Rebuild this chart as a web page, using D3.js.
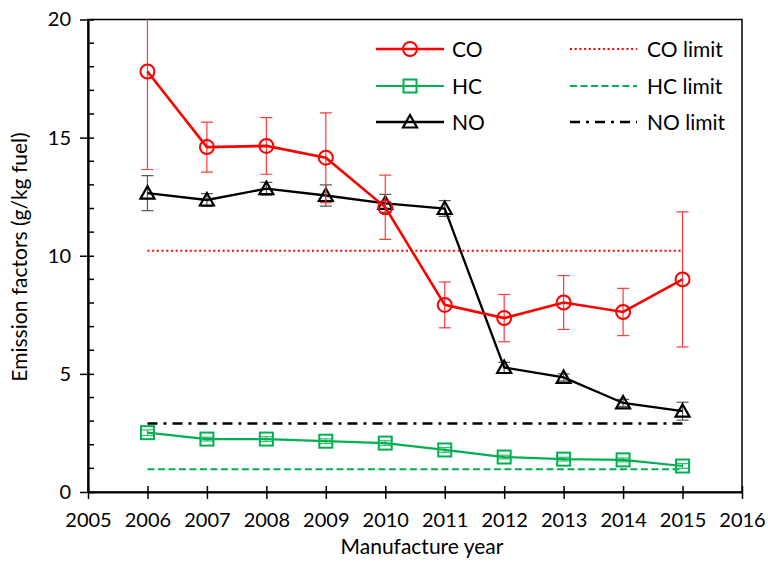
<!DOCTYPE html>
<html><head><meta charset="utf-8">
<script src="https://cdn.jsdelivr.net/npm/d3@7"></script>
<style>body{margin:0;background:#fff}svg{display:block}text{font-family:Lato,"Open Sans",sans-serif;fill:#000}</style>
</head><body><svg id="c" width="768" height="567"></svg>
<script>
const years = [2006,2007,2008,2009,2010,2011,2012,2013,2014,2015];
const coVals = [17.8,14.6,14.65,14.15,12.05,7.92,7.36,8.02,7.62,9.0];
const coErr  = [4.15,1.06,1.2,1.9,1.36,0.97,1.0,1.14,1.0,2.86];
const hcVals = [2.51,2.24,2.24,2.15,2.07,1.78,1.48,1.39,1.36,1.1];
const hcErr  = [0.12,0.08,0.1,0.1,0.1,0.1,0.08,0.08,0.08,0.1];
const noVals = [12.65,12.36,12.84,12.55,12.22,12.0,5.27,4.85,3.77,3.42];
const noErr  = [0.74,0.27,0.27,0.45,0.38,0.33,0.22,0.15,0.15,0.38];
const limits = [{name:"CO limit",value:10.21},{name:"HC limit",value:0.96},{name:"NO limit",value:2.9}];
const xTicks = [2005,2006,2007,2008,2009,2010,2011,2012,2013,2014,2015,2016];
const yTicks = [0,5,10,15,20];

const svg = d3.select("#c");
const L=88,R=742,T=19.5,B=492;
const x = d3.scaleLinear().domain([2005,2016]).range([L,R]);
const y = d3.scaleLinear().domain([0,20]).range([B,T]);

svg.append("defs").append("clipPath").attr("id","clip")
  .append("rect").attr("x",L).attr("y",T).attr("width",R-L).attr("height",B-T);

// frame
svg.append("rect").attr("x",L).attr("y",T).attr("width",R-L).attr("height",B-T)
  .attr("fill","none").attr("stroke","#000").attr("stroke-width",1.5);

// minor y ticks
const minor = d3.range(0,21,1).filter(v=>v%5!==0);
svg.append("g").selectAll("line").data(minor).join("line")
  .attr("x1",L).attr("x2",L+6).attr("y1",d=>y(d)).attr("y2",d=>y(d))
  .attr("stroke","#000").attr("stroke-width",1.5);

// y axis
const yAxis = svg.append("g").attr("transform",`translate(${L},0)`)
  .call(d3.axisLeft(y).tickValues(yTicks).tickSize(8).tickPadding(9).tickSizeOuter(0));
yAxis.select(".domain").attr("stroke-width",2.2);
yAxis.selectAll(".tick line").attr("stroke-width",1.5).attr("x2",6).attr("x1",-8);
yAxis.selectAll("text").attr("font-size",20).attr("font-family","Lato");

// x axis
const xAxis = svg.append("g").attr("transform",`translate(0,${B})`)
  .call(d3.axisBottom(x).tickValues(xTicks).tickFormat(d3.format("d")).tickSize(7).tickPadding(14).tickSizeOuter(0));
xAxis.select(".domain").attr("stroke-width",2.2);
xAxis.selectAll(".tick line").attr("stroke-width",1.5).attr("y1",-6).attr("y2",7);
xAxis.selectAll("text").attr("font-size",20).attr("font-family","Lato");

// titles
svg.append("text").attr("x",422).attr("y",554).attr("text-anchor","middle").attr("font-size",21).text("Manufacture year");
svg.append("text").attr("transform",`translate(27,257) rotate(-90)`).attr("text-anchor","middle").attr("font-size",21).text("Emission factors (g/kg fuel)");

const limStyle = {
  "CO limit":{color:"#FF0000",dash:"2,2.7",w:2},
  "HC limit":{color:"#00B050",dash:"7,3.5",w:2},
  "NO limit":{color:"#000",dash:"10,6,3,6",w:2.5}
};
const plot = svg.append("g").attr("clip-path","url(#clip)");
limits.forEach(l=>{
  const s=limStyle[l.name];
  plot.append("line").attr("x1",x(years[0])).attr("x2",x(years[years.length-1]))
    .attr("y1",y(l.value)).attr("y2",y(l.value))
    .attr("stroke",s.color).attr("stroke-width",s.w).attr("stroke-dasharray",s.dash);
});

const series = [
  {name:"HC",vals:hcVals,err:hcErr,color:"#00B050",errColor:"#2DBF6A",marker:"square",w:2.2},
  {name:"NO",vals:noVals,err:noErr,color:"#000",errColor:"#595959",marker:"triangle",w:2.3},
  {name:"CO",vals:coVals,err:coErr,color:"#FF0000",errColor:"#FF3B3B",marker:"circle",w:2.6}
];
function drawMarker(g,type,cx,cy,color){
  if(type==="circle") g.append("circle").attr("cx",cx).attr("cy",cy).attr("r",7).attr("fill","none").attr("stroke",color).attr("stroke-width",2);
  else if(type==="square") g.append("rect").attr("x",cx-6.5).attr("y",cy-6.5).attr("width",13).attr("height",13).attr("fill","none").attr("stroke",color).attr("stroke-width",2);
  else g.append("path").attr("d",`M${cx},${cy-7}L${cx+7},${cy+5.5}L${cx-7},${cy+5.5}Z`).attr("fill","none").attr("stroke",color).attr("stroke-width",2.2);
}
const line = d3.line().x((d,i)=>x(years[i])).y(d=>y(d));
series.forEach(s=>{
  const g = plot.append("g");
  s.vals.forEach((v,i)=>{
    const cx=x(years[i]);
    g.append("line").attr("x1",cx).attr("x2",cx).attr("y1",y(v+s.err[i])).attr("y2",y(v-s.err[i])).attr("stroke",s.errColor).attr("stroke-width",1.2);
    [v+s.err[i],v-s.err[i]].forEach(e=>{
      g.append("line").attr("x1",cx-6).attr("x2",cx+6).attr("y1",y(e)).attr("y2",y(e)).attr("stroke",s.errColor).attr("stroke-width",1.2);
    });
  });
  g.append("path").datum(s.vals).attr("d",line).attr("fill","none").attr("stroke",s.color).attr("stroke-width",s.w);
  s.vals.forEach((v,i)=>drawMarker(g,s.marker,x(years[i]),y(v),s.color));
});

// legend
const legRows=[49,86,122];
["CO","HC","NO"].forEach((n,i)=>{
  const s=series.find(d=>d.name===n);
  const gy=legRows[i];
  svg.append("line").attr("x1",376).attr("x2",444).attr("y1",gy).attr("y2",gy).attr("stroke",s.color).attr("stroke-width",s.w);
  drawMarker(svg,s.marker,410,gy,s.color);
  svg.append("text").attr("x",452).attr("y",gy+7.5).attr("font-size",21).text(n);
});
limits.forEach((l,i)=>{
  const s=limStyle[l.name];
  const gy=legRows[i];
  svg.append("line").attr("x1",570).attr("x2",637).attr("y1",gy).attr("y2",gy).attr("stroke",s.color).attr("stroke-width",s.w).attr("stroke-dasharray",s.dash);
  svg.append("text").attr("x",647).attr("y",gy+7.5).attr("font-size",21).text(l.name);
});
</script></body></html>
